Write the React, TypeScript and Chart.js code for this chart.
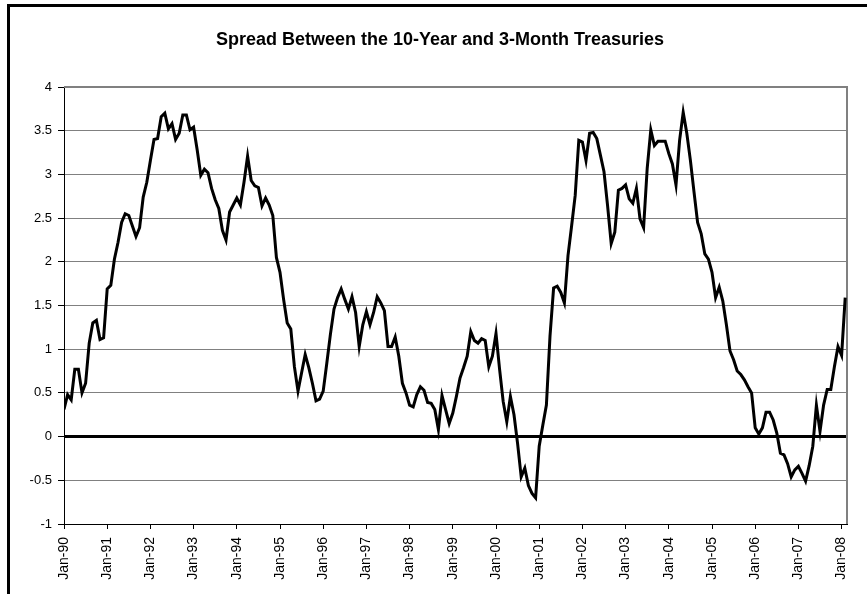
import React, { useEffect, useRef } from "react";
import { Chart, registerables } from "chart.js";

Chart.register(...registerables);

const TITLE = "Spread Between the 10-Year and 3-Month Treasuries";

const YEAR_LABELS = [
  "Jan-90", "Jan-91", "Jan-92", "Jan-93", "Jan-94", "Jan-95", "Jan-96",
  "Jan-97", "Jan-98", "Jan-99", "Jan-00", "Jan-01", "Jan-02", "Jan-03",
  "Jan-04", "Jan-05", "Jan-06", "Jan-07", "Jan-08",
];

const Y_TICK_LABELS = ["-1", "-0.5", "0", "0.5", "1", "1.5", "2", "2.5", "3", "3.5", "4"];

// Monthly spread (10-year minus 3-month), percentage points
const S1990 = [0.31, 0.48, 0.42, 0.77, 0.77, 0.5, 0.61, 1.07, 1.3, 1.33, 1.11, 1.13];
const S1991 = [1.69, 1.73, 2.03, 2.22, 2.45, 2.55, 2.53, 2.41, 2.29, 2.39, 2.74, 2.91];
const S1992 = [3.16, 3.4, 3.41, 3.66, 3.7, 3.52, 3.58, 3.4, 3.47, 3.68, 3.68, 3.51];
const S1993 = [3.54, 3.28, 2.99, 3.06, 3.02, 2.84, 2.71, 2.61, 2.36, 2.25, 2.57, 2.65];
const S1994 = [2.73, 2.65, 2.91, 3.21, 2.93, 2.87, 2.85, 2.64, 2.73, 2.65, 2.53, 2.05];
const S1995 = [1.88, 1.57, 1.3, 1.23, 0.8, 0.52, 0.73, 0.94, 0.79, 0.61, 0.41, 0.43];
const S1996 = [0.52, 0.84, 1.17, 1.46, 1.59, 1.69, 1.57, 1.46, 1.6, 1.42, 1.03, 1.28];
const S1997 = [1.43, 1.28, 1.42, 1.6, 1.53, 1.44, 1.03, 1.03, 1.14, 0.92, 0.61, 0.5];
const S1998 = [0.36, 0.34, 0.48, 0.57, 0.53, 0.39, 0.38, 0.31, 0.08, 0.47, 0.31, 0.15];
const S1999 = [0.27, 0.46, 0.67, 0.79, 0.92, 1.2, 1.1, 1.07, 1.12, 1.1, 0.8, 0.92];
const S2000 = [1.18, 0.77, 0.4, 0.17, 0.46, 0.25, -0.08, -0.46, -0.36, -0.56, -0.65, -0.7];
const S2001 = [-0.11, 0.13, 0.36, 1.15, 1.7, 1.72, 1.65, 1.53, 2.07, 2.41, 2.76, 3.39];
const S2002 = [3.37, 3.16, 3.47, 3.48, 3.41, 3.22, 3.03, 2.64, 2.21, 2.34, 2.82, 2.84];
const S2003 = [2.88, 2.72, 2.67, 2.84, 2.49, 2.39, 3.07, 3.51, 3.33, 3.38, 3.38, 3.38];
const S2004 = [3.24, 3.12, 2.88, 3.39, 3.71, 3.47, 3.16, 2.8, 2.45, 2.32, 2.09, 2.03];
const S2005 = [1.88, 1.59, 1.71, 1.55, 1.28, 0.98, 0.88, 0.75, 0.71, 0.65, 0.57, 0.5];
const S2006 = [0.1, 0.03, 0.1, 0.28, 0.28, 0.19, 0.04, -0.19, -0.21, -0.31, -0.46, -0.38];
const S2007 = [-0.34, -0.42, -0.51, -0.33, -0.11, 0.36, 0.06, 0.36, 0.54, 0.54, 0.8, 1.03];
const S2008 = [0.93, 1.59];

const SPREAD = [
  ...S1990, ...S1991, ...S1992, ...S1993, ...S1994, ...S1995, ...S1996,
  ...S1997, ...S1998, ...S1999, ...S2000, ...S2001, ...S2002, ...S2003,
  ...S2004, ...S2005, ...S2006, ...S2007, ...S2008,
];

const W = 867;
const H = 594;
const FONT = "Liberation Sans, Arial, sans-serif";

const framePlugin = {
  id: "frame",
  beforeDatasetsDraw(chart: any) {
    const { ctx, chartArea } = chart;
    ctx.save();
    ctx.strokeStyle = "#808080";
    ctx.lineWidth = 2;
    ctx.beginPath();
    ctx.moveTo(chartArea.left, chartArea.top);
    ctx.lineTo(chartArea.right, chartArea.top);
    ctx.lineTo(chartArea.right, chartArea.bottom);
    ctx.stroke();
    ctx.restore();
  },
  afterDraw(chart: any) {
    const { ctx } = chart;
    ctx.save();
    ctx.fillStyle = "#000";
    ctx.font = `bold 18px ${FONT}`;
    ctx.textAlign = "center";
    ctx.textBaseline = "middle";
    ctx.fillText(TITLE, 440, 40);
    ctx.fillRect(7, 4, W - 7, 3);
    ctx.fillRect(7, 4, 3, H - 4);
    ctx.restore();
  },
};

export default function App() {
  const ref = useRef<HTMLCanvasElement | null>(null);

  useEffect(() => {
    if (!ref.current) return;
    const points = SPREAD.map((v, i) => ({ x: i, y: v }));
    const chart = new Chart(ref.current, {
      type: "line",
      data: {
        datasets: [
          {
            label: "Spread",
            data: points,
            borderColor: "#000",
            borderWidth: 3,
            pointRadius: 0,
            tension: 0,
            fill: false,
          },
        ],
      },
      options: {
        responsive: false,
        animation: false,
        devicePixelRatio: 1,
        layout: { padding: { left: 0, right: 20, top: 87, bottom: 0 } },
        plugins: {
          legend: { display: false },
          tooltip: { enabled: false },
          title: { display: false },
        },
        scales: {
          x: {
            type: "linear",
            min: 0,
            max: 217.5,
            afterFit(scale: any) {
              scale.height = H - 524;
            },
            grid: { drawOnChartArea: false, color: "#000", tickLength: 5 },
            border: { color: "#000", width: 1 },
            ticks: {
              stepSize: 12,
              includeBounds: false,
              autoSkip: false,
              maxRotation: 90,
              minRotation: 90,
              padding: 8,
              color: "#000",
              font: { family: FONT, size: 14 },
              callback: (v: any) => YEAR_LABELS[Math.round(Number(v) / 12)] ?? "",
            },
          },
          y: {
            type: "linear",
            min: -1,
            max: 4,
            afterFit(scale: any) {
              scale.width = 64;
            },
            grid: {
              color: (c: any) => (c.tick && c.tick.value === 0 ? "#000" : "#808080"),
              lineWidth: (c: any) => (c.tick && c.tick.value === 0 ? 3 : 1),
              tickColor: "#000",
              tickWidth: 1,
              tickLength: 6,
            },
            border: { color: "#000", width: 1 },
            ticks: {
              stepSize: 0.5,
              padding: 6,
              color: "#000",
              font: { family: FONT, size: 13 },
              callback: (v: any) => {
                const idx = Math.round((Number(v) + 1) * 2);
                return Y_TICK_LABELS[idx] ?? "";
              },
            },
          },
        },
      },
      plugins: [framePlugin],
    });
    return () => chart.destroy();
  }, []);

  return (
    <div style={{ position: "absolute", left: 0, top: 0, width: W, height: H, background: "#fff" }}>
      <canvas ref={ref} width={W} height={H} style={{ display: "block" }} />
    </div>
  );
}
